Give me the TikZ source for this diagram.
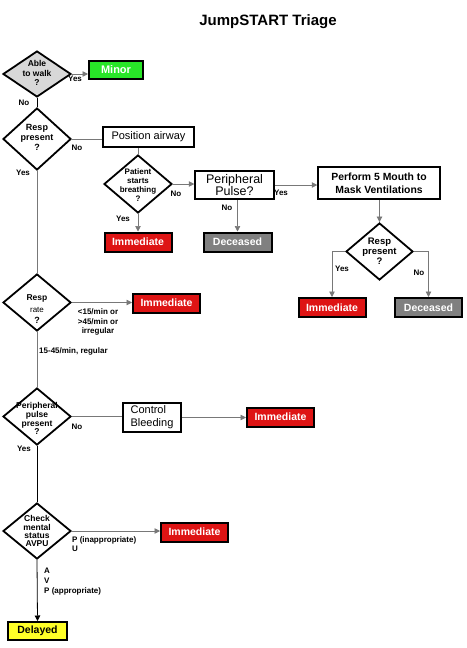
\documentclass[tikz,border=0pt]{standalone}
\usepackage{fontspec}
\setmainfont{Liberation Sans}
\usetikzlibrary{shapes.geometric,arrows.meta}
\definecolor{minorgreen}{RGB}{40,230,40}
\definecolor{immred}{RGB}{222,20,20}
\definecolor{decgray}{RGB}{128,128,128}
\definecolor{delyellow}{RGB}{255,255,40}
\definecolor{diagray}{RGB}{216,216,216}
\definecolor{linegray}{RGB}{120,120,120}
% diamond text: #1 font size, #2 baselineskip, #3 vertical shift, #4 lines
\newcommand{\dtxt}[4]{\makebox[0pt]{\smash{\raisebox{#3}{\fontsize{#1}{#2}\selectfont\bfseries\begin{tabular}{@{}c@{}}#4\end{tabular}}}}}
\begin{document}
\begin{tikzpicture}[x=1pt,y=-1pt,
  dia/.style={diamond, draw=black, line width=1.8pt, inner sep=0pt, fill=white,
    minimum width=68pt, minimum height=57pt},
  wbox/.style={draw=black, line width=1.5pt, fill=white, inner sep=0pt, align=center},
  cbox/.style={draw=black, line width=2pt, inner sep=0pt, align=center,
    font=\fontsize{10.5}{12}\selectfont\bfseries},
  imm/.style={cbox, fill=immred, text=white, minimum width=67pt, minimum height=19pt},
  dec/.style={cbox, fill=decgray, text=white, minimum width=68pt, minimum height=19pt},
  lab/.style={inner sep=0pt, font=\fontsize{8}{9.5}\selectfont\bfseries},
  conn/.style={draw=linegray, line width=0.7pt},
  connk/.style={draw=black, line width=0.8pt},
  arr/.style={-{Triangle[length=5.5pt,width=5.5pt]}},
]
\useasboundingbox (0,0) rectangle (466,648);
\fill[white] (0,0) rectangle (466,648);

% title
\node[inner sep=0pt] (title) at (268,22) {\fontsize{15}{18}\selectfont\bfseries JumpSTART Triage};

% diamonds
\node[dia, fill=diagray, minimum height=46pt] (d1) at (37,74) {\dtxt{8.5}{9.5}{-2.1pt}{Able\\to walk\\?}};
\node[dia, minimum height=62pt] (d2) at (37,139) {\dtxt{9}{10}{-2.1pt}{Resp\\present\\?}};
\node[dia, minimum height=58pt] (d3) at (138,184) {\dtxt{8}{9}{-4.5pt}{Patient\\starts\\breathing\\?}};
\node[dia, minimum width=67pt, minimum height=57pt] (d4) at (379.5,251.5) {\dtxt{9.5}{10}{-3.5pt}{Resp\\present\\?}};
\node[dia, minimum height=57pt] (d5) at (37,302.5) {\makebox[0pt]{\smash{\raisebox{-9.6pt}{\fontsize{8.5}{11.5}\selectfont\begin{tabular}{@{}c@{}}{\bfseries Resp}\\{\fontsize{8}{9}\selectfont rate}\\{\fontsize{9}{10}\selectfont\bfseries ?}\end{tabular}}}}};
\node[dia, minimum height=57pt] (d6) at (37,416.5) {\dtxt{8.5}{8.7}{-5.5pt}{Peripheral\\pulse\\present\\?}};
\node[dia, minimum height=56pt] (d7) at (37,531) {\dtxt{8.5}{7.8}{-3pt}{Check\\mental\\status\\AVPU}};

% boxes
\node[cbox, fill=minorgreen, text=white, minimum width=54pt, minimum height=18pt,
  font=\fontsize{11}{12}\selectfont\bfseries] (minor) at (116,70) {Minor};
\node[wbox, minimum width=91pt, minimum height=20pt,
  font=\fontsize{11}{12}\selectfont] (pa) at (148.5,137) {Position airway};
\node[imm] (imm1) at (138,242) {Immediate};
\node[wbox, minimum width=79pt, minimum height=28pt,
  font=\fontsize{12.5}{12.5}\selectfont] (pp) at (234.5,185) {Peripheral\\Pulse?};
\node[dec] (dec1) at (237.5,242) {Deceased};
\node[wbox, minimum width=122pt, minimum height=32pt,
  font=\fontsize{10.4}{13}\selectfont\bfseries] (perf) at (379,183) {Perform 5 Mouth to\\Mask Ventilations};
\node[imm] (imm2) at (332,307.5) {Immediate};
\node[dec, minimum width=67pt] (dec2) at (428.5,307.5) {Deceased};
\node[imm] (imm3) at (166.5,303) {Immediate};
\node[wbox, minimum width=58pt, minimum height=29pt, align=left,
  font=\fontsize{11}{13}\selectfont] (cb) at (152,417.5) {Control\\Bleeding};
\node[imm] (imm4) at (280.5,417) {Immediate};
\node[imm] (imm5) at (194.5,532) {Immediate};
\node[cbox, fill=delyellow, text=black, minimum width=59pt, minimum height=18pt] (delayed) at (37.5,631) {Delayed};

% connectors
\draw[conn,arr] (d1.east) -- (d1.east -| minor.west);
\draw[connk] (d1.south) -- (d2.north);
\draw[conn] (d2.east) -- (d2.east -| pa.west);
\draw[conn] (pa.south -| d3.north) -- (d3.north);
\draw[conn,arr] (d3.south) -- (imm1.north);
\draw[conn,arr] (d3.east) -- (d3.east -| pp.west);
\draw[conn,arr] (pp.south -| dec1.north) -- (dec1.north);
\draw[conn,arr] (pp.east) -- (pp.east -| perf.west);
\draw[conn,arr] (perf.south -| d4.north) -- (d4.north);
\draw[conn,arr] (d4.west) -| (imm2.north);
\draw[conn,arr] (d4.east) -| (dec2.north);
\draw[conn] (d2.south) -- (d5.north);
\draw[conn,arr] (d5.east) -- (d5.east -| imm3.west);
\draw[conn] (d5.south) -- (d6.north);
\draw[conn] (d6.east) -- (d6.east -| cb.west);
\draw[conn,arr] (cb.east) -- (cb.east -| imm4.west);
\draw[connk] (d6.south) -- (d7.north);
\draw[conn,arr] (d7.east) -- (d7.east -| imm5.west);
\draw[connk,arr] (d7.south) -- (delayed.north);

% labels
\node[lab] (l1y) at (75,79) {Yes};
\node[lab] (l1n) at (24,103) {No};
\node[lab] (l2n) at (77,148) {No};
\node[lab] (l2y) at (23,173) {Yes};
\node[lab] (l3y) at (123,219) {Yes};
\node[lab] (l3n) at (176,194) {No};
\node[lab] (lpn) at (227,208) {No};
\node[lab] (lpy) at (281,193) {Yes};
\node[lab] (l4y) at (342,269) {Yes};
\node[lab] (l4n) at (419,273) {No};
\node[lab, align=center] (l5r) at (98,322) {<15/min or\\>45/min or\\irregular};
\node[lab, anchor=west] (l5d) at (39,351) {15-45/min, regular};
\node[lab] (l6n) at (77,427) {No};
\node[lab] (l6y) at (24,449) {Yes};
\node[lab, align=left, anchor=north west] (l7r) at (72,536) {P (inappropriate)\\U};
\node[lab, align=left, anchor=north west, font=\fontsize{8}{10}\selectfont\bfseries] (l7d) at (44,568) {A\\V\\P (appropriate)};
\end{tikzpicture}
\end{document}
